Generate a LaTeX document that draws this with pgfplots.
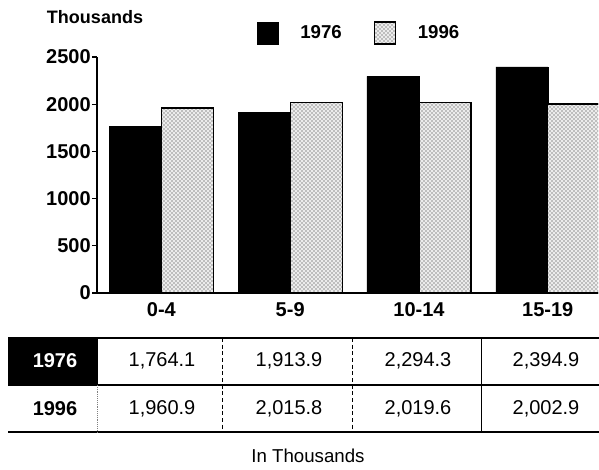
\documentclass[border=0pt]{standalone}
\usepackage{pgfplots}
\pgfplotsset{compat=1.18}
\usepackage{fontspec}
\setmainfont{Liberation Sans}
\usetikzlibrary{patterns}

\begin{document}
\begin{tikzpicture}
\useasboundingbox (0,0) rectangle (449.25pt,-351.75pt);
\begin{axis}[
  at={(72.75pt,-219.75pt)}, anchor=south west,
  scale only axis, width=375.75pt, height=177pt,
  xmin=-0.5, xmax=3.39, ymin=0, ymax=2500,
  axis x line*=bottom, axis y line*=left,
  axis line style={line width=1pt},
  ytick={0,500,1000,1500,2000,2500},
  xtick={0,1,2,3}, xticklabels={0-4,5-9,10-14,15-19},
  x tick style={draw=none},
  y tick style={black, line width=0.8pt},
  tick align=outside, major tick length=3.5pt,
  /pgf/number format/assume math mode=true,
  /pgf/number format/1000 sep={},
  yticklabel style={font=\fontsize{15}{18}\selectfont\bfseries, inner xsep=1pt},
  xticklabel style={font=\fontsize{15}{18}\selectfont\bfseries},
  ybar, bar width=39pt,
  legend columns=2,
  legend image code/.code={\draw[#1] (0pt,-8.5pt) rectangle (16pt,8pt);},
  legend style={draw=none, fill=none, inner sep=0pt,
    at={(0.319,1.102)}, anchor=west,
    font=\fontsize{14}{17}\selectfont\bfseries,
    /tikz/every odd column/.append style={column sep=14pt},
    /tikz/every even column/.append style={column sep=22pt}},
]
\addplot[fill=black, draw=black, bar shift=-19.5pt]
  coordinates {(0,1764.1) (1,1913.9) (2,2294.3) (3,2394.9)};
\addplot[fill=gray!15, draw=black, line width=1pt, postaction={pattern=crosshatch dots, pattern color=black!85}, bar shift=19.5pt]
  coordinates {(0,1960.9) (1,2015.8) (2,2019.6) (3,2002.9)};
\legend{1976,1996}
\end{axis}
\begin{scope}[x=0.75pt,y=-0.75pt]
\node[font=\fontsize{13.5}{16}\selectfont\bfseries] at (95,17) {Thousands};
\fill[black] (8,337) rectangle (98,385);
\draw[line width=1.5pt] (98,338) -- (599,338);
\draw[line width=1.5pt] (8,385) -- (599,385);
\draw[line width=1.2pt] (8,432) -- (599,432);
\draw[densely dashed, line width=0.6pt] (222,338) -- (222,432);
\draw[densely dashed, line width=0.6pt] (352,338) -- (352,432);
\draw[line width=0.6pt] (481,338) -- (481,432);
\draw[densely dotted, line width=0.4pt, gray] (97,385) -- (97,432);
\begin{scope}[every node/.style={font=\fontsize{15}{18}\selectfont}]
\node[text=white, font=\fontsize{15}{18}\selectfont\bfseries] at (55,361) {1976};
\node[font=\fontsize{15}{18}\selectfont\bfseries] at (55,409) {1996};
\node at (162,361) {1,764.1};
\node at (289,361) {1,913.9};
\node at (418,361) {2,294.3};
\node at (546,361) {2,394.9};
\node at (162,409) {1,960.9};
\node at (289,409) {2,015.8};
\node at (418,409) {2,019.6};
\node at (546,409) {2,002.9};
\node[font=\fontsize{14}{17}\selectfont] at (308,456) {In Thousands};
\end{scope}
\end{scope}
\end{tikzpicture}
\end{document}
